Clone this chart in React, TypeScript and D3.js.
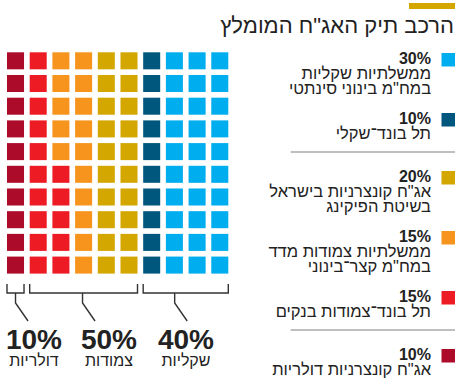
import React from 'react';
import * as d3 from 'd3';

// portfolio parts, in the order the waffle is filled (left column first, bottom up)
const parts = ['dollarCorp', 'bankLinked', 'cpiGov', 'ilCorp', 'shekelBond', 'shekelGov'];
const shares = [10, 15, 15, 20, 10, 30];
const colors = ['#ad0b2a', '#ed1c24', '#f7941d', '#d4a600', '#00577e', '#00adef'];

// legend, top to bottom
const legendPct = ['30%', '10%', '20%', '15%', '15%', '10%'];
const legendText = [
  ['ממשלתיות שקליות', 'במח"מ בינוני סינתטי'],
  ['תל בונד־שקלי'],
  ['אג"ח קונצרניות בישראל', 'בשיטת הפיקינג'],
  ['ממשלתיות צמודות מדד', 'במח"מ קצר־בינוני'],
  ['תל בונד־צמודות בנקים'],
  ['אג"ח קונצרניות דולריות'],
];
const legendColor = ['#00adef', '#00577e', '#d4a600', '#f7941d', '#ed1c24', '#ad0b2a'];
const legendRuleAfter = [1, 4];

// groups under the waffle (column ranges)
const groupPct = ['10%', '50%', '40%'];
const groupName = ['דולריות', 'צמודות', 'שקליות'];
const groupCols = [[0, 1], [1, 6], [6, 10]];

const title = 'הרכב תיק האג"ח המומלץ';
const font = '"Liberation Sans", Arial, sans-serif';
const ink = '#222';

export default function App() {
  const cols = d3.range(10);
  const x = d3.scaleBand<number>().domain(cols).range([7, 228.3]).paddingInner(0.25);
  const y = d3.scaleBand<number>().domain(cols).range([52.3, 273.6]).paddingInner(0.25);

  // one cell per percent point
  const cells: { i: number; color: string }[] = [];
  parts.forEach((p, k) => {
    for (let n = 0; n < shares[k]; n++) cells.push({ i: cells.length, color: colors[k] });
  });

  // legend layout
  const legend: { pct: number; lines: number[] }[] = [];
  const rules: number[] = [];
  let yy = 64;
  legendPct.forEach((_, k) => {
    const lines = legendText[k].map((_, j) => yy + 15 * (j + 1));
    legend.push({ pct: yy, lines });
    const last = lines[lines.length - 1];
    if (legendRuleAfter.includes(k)) {
      rules.push(last + 13);
      yy = last + 43;
    } else {
      yy = last + 30;
    }
  });

  const stemFrac = [0.5, 0.49, 0.37];
  const labelX = [34, 109, 186];

  return (
    <svg width={458} height={386} style={{ position: 'absolute', left: 0, top: 0 }} fontFamily={font}>
      <rect width={458} height={386} fill="#fff" />
      <rect x={409} y={3} width={46} height={6} fill="#d4a600" />
      <text x={454} y={33} textAnchor="end" fontSize={22} fill={ink}>{title}</text>

      {cells.map((c) => (
        <rect key={c.i} x={x(Math.floor(c.i / 10))} y={y(9 - (c.i % 10))}
          width={x.bandwidth()} height={y.bandwidth()} fill={c.color} />
      ))}

      {groupCols.map(([a, b], k) => {
        const x0 = x(a)!;
        const x1 = x(b - 1)! + x.bandwidth();
        const sx = x0 + (x1 - x0) * stemFrac[k];
        return (
          <g key={k}>
            <path d={`M${x0},284V293H${x1}V284M${sx},293V303L${sx + 12.5},321`}
              fill="none" stroke="#333" strokeWidth={1.4} />
            <text x={labelX[k]} y={349} textAnchor="middle" fontSize={28} fontWeight="bold"
              fill={ink}>{groupPct[k]}</text>
            <text x={labelX[k]} y={366} textAnchor="middle" fontSize={16} fill={ink}>{groupName[k]}</text>
          </g>
        );
      })}

      {legend.map((l, k) => (
        <g key={k}>
          <rect x={441.5} y={l.pct - 11} width={13.5} height={13.5} fill={legendColor[k]} />
          <text x={431} y={l.pct} textAnchor="end" fontSize={16} fontWeight="bold" fill={ink}>{legendPct[k]}</text>
          {legendText[k].map((t, j) => (
            <text key={j} x={431} y={l.lines[j]} textAnchor="end" fontSize={16.5} fill={ink}>{t}</text>
          ))}
        </g>
      ))}
      {rules.map((r, k) => (
        <line key={k} x1={290.7} x2={455} y1={r} y2={r} stroke="#aaa" strokeWidth={1.5} />
      ))}
    </svg>
  );
}
